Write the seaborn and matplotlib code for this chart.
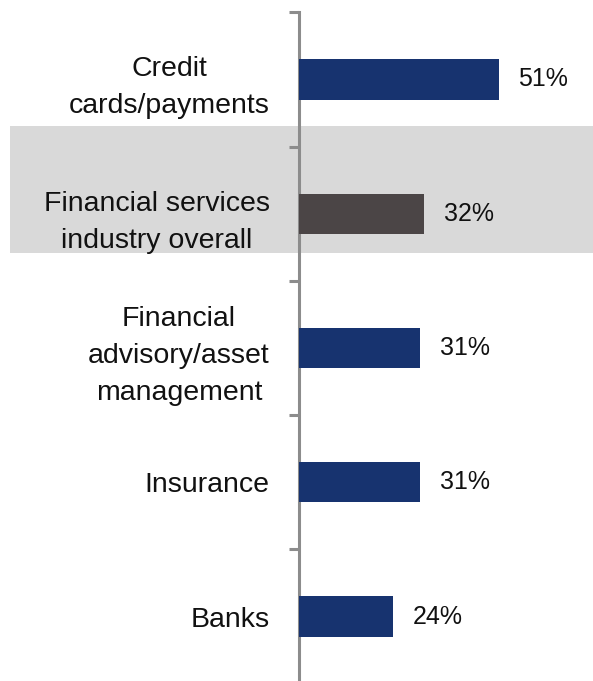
import matplotlib
matplotlib.use("Agg")
import matplotlib.pyplot as plt
from matplotlib.patches import Rectangle
from matplotlib.transforms import blended_transform_factory
import seaborn as sns
import pandas as pd

categories = [
    "Credit\ncards/payments",
    "Financial services\nindustry overall",
    "Financial\nadvisory/asset\nmanagement",
    "Insurance",
    "Banks",
]
values = [51, 32, 31, 31, 24]
value_labels = ["51%", "32%", "31%", "31%", "24%"]
bar_colors = ["#17336F", "#4B4546", "#17336F", "#17336F", "#17336F"]

sns.set_theme(style="white")
plt.rcParams["font.family"] = ["Liberation Sans", "DejaVu Sans"]

df = pd.DataFrame({"category": categories, "value": values})

fig = plt.figure(figsize=(5.93, 6.81), dpi=100)
ax = fig.add_axes([0.504, -0.004, 0.496, 0.986])
ax.set_facecolor("none")

sns.barplot(data=df, x="value", y="category", hue="category",
            palette=bar_colors, legend=False, width=0.3, orient="h",
            saturation=1, linewidth=0, ax=ax, zorder=3)

# highlight band behind the industry-overall row
band = Rectangle((10 / 593, 0.346), 1 - 10 / 593, 0.944,
                 transform=blended_transform_factory(fig.transFigure, ax.transData),
                 facecolor="#D9D9D9", edgecolor="none", zorder=0.5, clip_on=False)
ax.add_patch(band)

ax.set_xlim(0, 75)
ax.set_ylim(4.5, -0.5)
ax.set_xlabel("")
ax.set_ylabel("")
ax.set_xticks([])

for s in ["top", "right", "bottom"]:
    ax.spines[s].set_visible(False)
ax.spines["left"].set_color("#8C8C8C")
ax.spines["left"].set_linewidth(2.2)

ax.set_yticks(range(len(categories)))
ax.set_yticks([-0.5, 0.5, 1.5, 2.5, 3.5], minor=True)
ax.tick_params(axis="y", which="major", length=0, pad=21, labelsize=20.5, labelcolor="#111111")
ax.tick_params(axis="y", which="minor", length=7.5, width=2.2, color="#8C8C8C", left=True)
for lab in ax.get_yticklabels():
    lab.set_multialignment("center")
    lab.set_linespacing(1.55)

for i, (v, t) in enumerate(zip(values, value_labels)):
    ax.text(v + 5, i, t, va="center", ha="left", fontsize=18,
            family=["Liberation Sans", "DejaVu Sans"], color="#111111")

fig.savefig("out.png", dpi=100)
